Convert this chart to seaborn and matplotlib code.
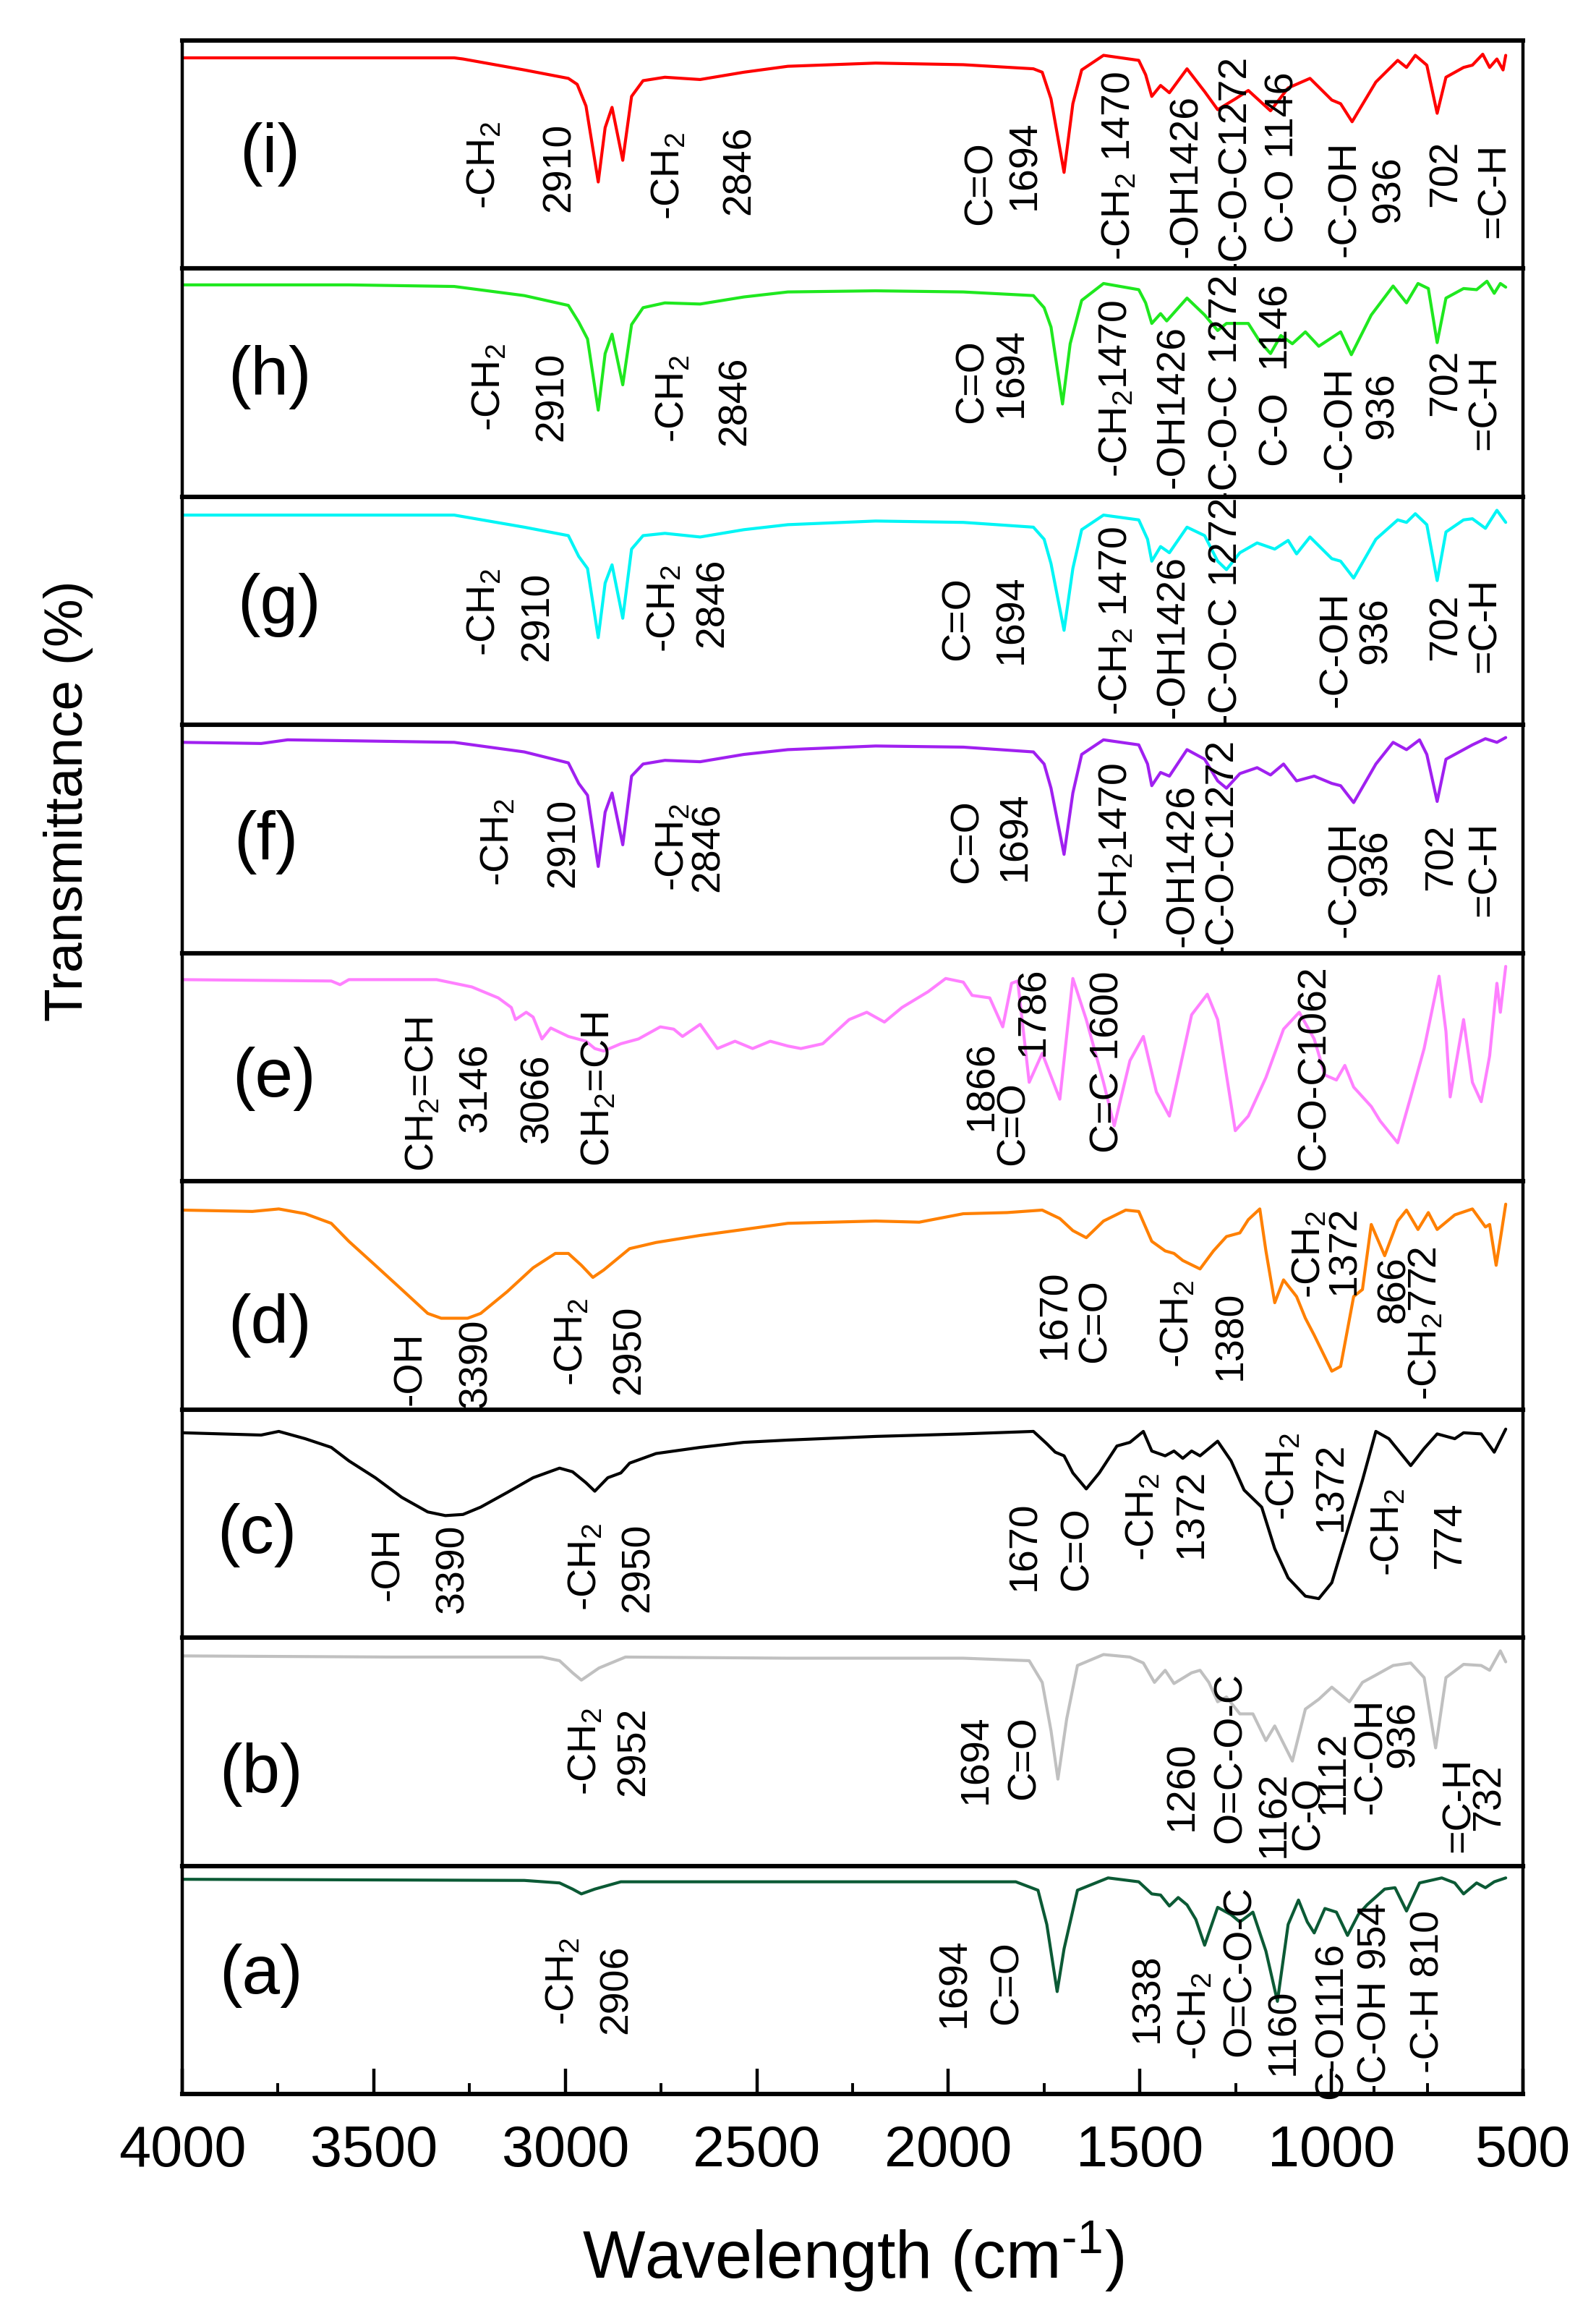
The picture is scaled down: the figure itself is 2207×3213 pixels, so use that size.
import matplotlib
matplotlib.use("Agg")
import numpy as np
import pandas as pd
import seaborn as sns
import matplotlib.pyplot as plt
from matplotlib.ticker import MultipleLocator
from matplotlib import font_manager

# ---------------- data (wavenumber cm-1, transmittance as % of panel height) ----------------
wn_i = [4000, 3290, 3267, 3107, 2992, 2969, 2946, 2914, 2896, 2878, 2850, 2827, 2797, 2740, 2648, 2534, 2419, 2190, 1961, 1778, 1755, 1732, 1698, 1675, 1652, 1595, 1503, 1485, 1469, 1446, 1423, 1377, 1331, 1297, 1251, 1217, 1159, 1113, 1056, 999, 976, 946, 884, 827, 804, 781, 751, 724, 701, 655, 632, 605, 587, 568, 552, 545]
t_i = [92.4, 92.4, 91.9, 87.1, 83.4, 80.8, 71.3, 38.0, 61.8, 70.7, 47.5, 75.5, 82.4, 83.9, 82.9, 86.1, 88.7, 90.1, 89.4, 87.6, 86.1, 74.4, 42.2, 72.3, 87.1, 93.5, 91.3, 85.0, 75.5, 80.3, 77.1, 87.6, 77.6, 69.7, 74.4, 78.1, 69.2, 79.2, 83.4, 73.9, 72.3, 64.4, 81.8, 91.3, 88.2, 93.5, 89.2, 68.1, 83.9, 88.2, 89.2, 94.0, 88.2, 91.9, 87.1, 93.5]

wn_h = [4000, 3565, 3290, 3107, 2992, 2965, 2942, 2914, 2896, 2878, 2850, 2827, 2797, 2740, 2648, 2534, 2419, 2190, 1961, 1778, 1750, 1732, 1702, 1682, 1652, 1595, 1503, 1485, 1469, 1446, 1430, 1377, 1331, 1297, 1274, 1217, 1187, 1159, 1132, 1102, 1068, 1033, 976, 948, 896, 839, 804, 774, 747, 724, 701, 655, 621, 594, 575, 559, 545]
t_h = [92.9, 92.9, 92.2, 88.2, 83.9, 76.6, 69.2, 38.0, 62.8, 71.3, 49.1, 75.5, 82.9, 85.0, 84.5, 87.6, 89.8, 90.3, 89.8, 88.2, 82.9, 74.4, 40.7, 67.1, 86.1, 93.5, 90.8, 85.0, 76.0, 80.3, 77.1, 87.1, 79.7, 72.9, 76.0, 76.0, 68.1, 62.8, 70.7, 67.1, 72.3, 66.0, 72.3, 62.3, 79.7, 92.4, 85.0, 93.5, 91.3, 67.6, 87.1, 91.3, 90.8, 94.5, 89.2, 93.5, 91.9]

wn_g = [4000, 3290, 3107, 2992, 2965, 2942, 2914, 2896, 2878, 2850, 2827, 2797, 2740, 2648, 2534, 2419, 2190, 1961, 1778, 1750, 1732, 1698, 1675, 1652, 1595, 1503, 1480, 1469, 1446, 1423, 1377, 1331, 1297, 1274, 1239, 1194, 1148, 1113, 1091, 1056, 999, 976, 942, 884, 827, 804, 781, 751, 724, 701, 655, 632, 598, 568, 545]
t_g = [92.0, 92.0, 86.7, 83.0, 73.9, 68.6, 38.3, 62.2, 70.2, 46.8, 77.1, 83.0, 84.0, 82.4, 85.6, 87.8, 89.4, 88.8, 86.7, 81.4, 70.7, 41.5, 68.6, 85.6, 92.0, 89.9, 81.4, 71.8, 78.2, 75.5, 86.7, 83.0, 71.8, 68.1, 75.5, 79.8, 77.1, 80.9, 75.0, 82.4, 72.9, 71.8, 64.4, 81.4, 89.9, 88.8, 92.6, 87.8, 63.3, 84.6, 89.9, 90.4, 86.2, 94.1, 88.8]

wn_f = [4000, 3794, 3725, 3290, 3107, 2992, 2965, 2942, 2914, 2896, 2878, 2850, 2827, 2797, 2740, 2648, 2534, 2419, 2190, 1961, 1778, 1750, 1732, 1698, 1675, 1652, 1595, 1503, 1480, 1469, 1446, 1423, 1377, 1331, 1297, 1274, 1239, 1194, 1159, 1125, 1091, 1045, 999, 976, 942, 884, 839, 804, 770, 751, 724, 701, 655, 632, 598, 568, 545]
t_f = [92.4, 91.9, 93.5, 92.4, 88.2, 83.4, 74.4, 69.2, 38.0, 61.8, 70.2, 47.5, 77.6, 82.9, 84.5, 83.9, 87.1, 89.2, 90.8, 90.3, 88.2, 82.9, 72.3, 43.3, 70.2, 87.1, 93.5, 91.3, 82.9, 73.4, 79.2, 77.6, 89.2, 85.0, 75.5, 72.3, 78.7, 81.3, 78.1, 82.9, 75.5, 77.6, 74.4, 73.4, 66.0, 82.9, 92.4, 89.2, 93.5, 87.1, 66.5, 85.0, 89.2, 91.3, 94.0, 92.4, 94.5]

wn_e = [4000, 3611, 3588, 3565, 3336, 3244, 3175, 3141, 3130, 3102, 3084, 3061, 3038, 2992, 2946, 2923, 2900, 2855, 2809, 2752, 2717, 2694, 2648, 2603, 2557, 2511, 2465, 2419, 2385, 2328, 2259, 2213, 2167, 2121, 2053, 2007, 1961, 1938, 1892, 1858, 1835, 1819, 1789, 1755, 1709, 1675, 1640, 1595, 1567, 1526, 1491, 1457, 1423, 1365, 1324, 1297, 1251, 1217, 1171, 1125, 1084, 1045, 1017, 987, 965, 942, 896, 873, 827, 793, 758, 719, 701, 690, 655, 632, 609, 587, 568, 559, 545]
t_e = [88.4, 87.8, 86.2, 88.4, 88.4, 85.2, 80.4, 76.2, 70.9, 74.1, 72.0, 62.4, 67.2, 63.5, 61.4, 58.2, 57.1, 60.3, 62.4, 67.7, 66.7, 63.5, 68.8, 58.2, 61.4, 58.2, 61.4, 59.3, 58.2, 60.3, 70.9, 74.1, 69.8, 76.2, 83.1, 88.9, 87.3, 81.5, 80.4, 67.7, 86.8, 87.8, 43.4, 56.1, 36.0, 88.9, 70.9, 43.4, 24.3, 52.9, 63.5, 39.2, 28.6, 73.0, 82.0, 70.9, 22.2, 28.6, 45.5, 66.7, 74.1, 62.4, 46.6, 44.4, 50.8, 41.3, 32.8, 26.5, 16.9, 37.0, 58.2, 89.9, 65.6, 37.0, 70.9, 43.4, 34.9, 55.0, 86.8, 74.1, 94.2]

wn_d = [4000, 3817, 3748, 3679, 3611, 3565, 3496, 3427, 3359, 3324, 3255, 3221, 3152, 3084, 3026, 2992, 2958, 2928, 2900, 2832, 2763, 2648, 2534, 2419, 2190, 2076, 1961, 1847, 1755, 1709, 1675, 1640, 1595, 1537, 1503, 1469, 1434, 1411, 1388, 1343, 1308, 1274, 1239, 1217, 1187, 1171, 1148, 1125, 1091, 1068, 1045, 999, 976, 942, 919, 896, 861, 827, 804, 774, 747, 724, 678, 632, 598, 587, 570, 559, 545]
t_d = [87.4, 86.8, 87.9, 85.8, 81.6, 73.7, 63.2, 52.6, 42.1, 40.0, 40.0, 42.1, 51.6, 62.1, 68.4, 68.4, 63.2, 57.9, 61.1, 70.5, 73.2, 76.3, 78.9, 81.6, 82.6, 82.1, 85.8, 86.3, 87.4, 83.7, 78.4, 75.3, 82.6, 87.4, 86.8, 73.7, 69.5, 68.4, 65.3, 61.6, 69.5, 75.8, 77.4, 83.2, 87.9, 69.5, 46.8, 56.8, 49.5, 40.0, 32.6, 16.8, 18.9, 49.5, 52.6, 81.1, 67.4, 82.6, 87.4, 78.9, 86.3, 78.9, 85.3, 87.9, 80.0, 81.1, 63.2, 74.7, 90.0]

wn_c = [4000, 3794, 3748, 3679, 3611, 3565, 3496, 3427, 3359, 3313, 3267, 3221, 3152, 3084, 3015, 2981, 2946, 2923, 2889, 2855, 2832, 2763, 2648, 2534, 2419, 2190, 1961, 1778, 1743, 1721, 1698, 1675, 1640, 1606, 1560, 1526, 1491, 1469, 1434, 1411, 1388, 1365, 1343, 1297, 1262, 1228, 1182, 1148, 1113, 1068, 1033, 999, 953, 919, 884, 850, 793, 758, 724, 678, 655, 609, 575, 545]
t_c = [89.8, 88.8, 90.4, 87.2, 83.4, 77.5, 70.1, 61.5, 55.1, 53.5, 54.0, 57.2, 63.6, 70.1, 74.3, 72.7, 67.9, 64.2, 70.1, 72.2, 76.5, 80.7, 83.4, 85.6, 86.6, 88.2, 89.3, 90.4, 85.0, 81.3, 79.7, 72.2, 65.2, 72.2, 84.0, 85.6, 90.4, 81.8, 79.7, 81.8, 78.6, 81.8, 79.7, 86.1, 77.5, 64.7, 57.2, 39.0, 26.2, 18.2, 17.1, 24.1, 49.7, 69.0, 90.4, 87.2, 75.4, 82.9, 89.3, 87.2, 89.8, 89.3, 81.3, 91.4]

wn_b = [4000, 3450, 3061, 3015, 2981, 2958, 2912, 2843, 2419, 1961, 1789, 1755, 1732, 1714, 1691, 1663, 1595, 1526, 1491, 1462, 1434, 1411, 1365, 1343, 1320, 1297, 1274, 1239, 1205, 1171, 1148, 1102, 1068, 1033, 999, 953, 919, 884, 839, 793, 758, 728, 701, 655, 609, 587, 559, 545]
t_b = [92.0, 91.5, 91.5, 89.9, 84.6, 81.4, 86.7, 91.5, 91.0, 91.0, 89.9, 80.4, 59.2, 38.0, 64.5, 87.8, 92.6, 91.5, 88.9, 80.4, 85.7, 79.9, 84.6, 85.7, 80.4, 71.9, 74.0, 66.6, 66.6, 54.9, 61.3, 45.9, 68.7, 73.0, 78.3, 71.9, 80.4, 83.6, 87.8, 88.9, 82.5, 51.7, 82.5, 88.3, 87.8, 85.7, 94.2, 89.4]

wn_a = [4000, 3107, 3015, 2981, 2958, 2923, 2855, 2419, 1824, 1766, 1743, 1716, 1698, 1663, 1583, 1503, 1469, 1446, 1423, 1400, 1377, 1354, 1331, 1297, 1262, 1239, 1205, 1171, 1141, 1113, 1086, 1063, 1045, 1017, 987, 958, 930, 907, 861, 834, 804, 770, 712, 678, 655, 621, 598, 575, 545]
t_a = [94.1, 93.6, 92.5, 89.8, 87.7, 89.8, 93.0, 93.0, 93.0, 89.3, 74.3, 44.9, 63.6, 89.3, 94.7, 93.0, 87.7, 87.2, 82.4, 86.1, 82.9, 76.5, 65.2, 81.8, 78.6, 75.4, 79.7, 62.6, 40.6, 74.3, 85.0, 75.4, 70.6, 81.3, 79.7, 69.5, 78.6, 82.9, 89.8, 90.4, 80.2, 92.5, 94.7, 92.5, 87.7, 92.5, 90.4, 93.0, 94.7]

panel_names = ["(i)", "(h)", "(g)", "(f)", "(e)", "(d)", "(c)", "(b)", "(a)"]
panel_colors = ["#ff0000", "#1fe81f", "#00f5f5", "#a020f0", "#ff80ff", "#ff8000", "#000000", "#c0c0c0", "#0b5a35"]

ann_i = [("-CH$_2$", 3210, 45.4), ("2910", 3015, 44.4), ("-CH$_2$", 2729, 40.7), ("2846", 2545, 43.3),
         ("C=O", 1915, 37.5), ("1694", 1801, 45.4), ("-CH$_2$ 1470", 1553, 44.9), ("-OH1426", 1377, 40.7),
         ("-C-O-C1272", 1251, 45.9), ("C-O 1146", 1125, 48.6), ("-C-OH", 965, 30.6), ("936", 850, 34.8),
         ("702", 701, 41.7), ("=C-H", 575, 34.3)]
ann_h = [("-CH$_2$", 3198, 48.0), ("2910", 3033, 43.8), ("-CH$_2$", 2717, 42.8), ("2846", 2557, 42.2),
         ("C=O", 1938, 50.7), ("1694", 1835, 54.4), ("-CH$_2$1470", 1560, 47.5), ("-OH1426", 1411, 39.6),
         ("-C-O-C 1272", 1274, 47.0), ("C-O  1146", 1141, 53.3), ("-C-OH", 976, 31.7), ("936", 866, 40.1),
         ("702", 701, 50.0), ("=C-H", 598, 41.2)]
ann_g = [("-CH$_2$", 3210, 49.5), ("2910", 3072, 47.6), ("-CH$_2$", 2740, 51.1), ("2846", 2614, 53.5),
         ("C=O", 1973, 46.8), ("1694", 1835, 46.3), ("-CH$_2$ 1470", 1560, 45.7), ("-OH1426", 1411, 38.8),
         ("-C-O-C 1272", 1274, 49.5), ("-C-OH", 987, 33.0), ("936", 884, 41.5), ("702", 701, 43.1),
         ("=C-H", 598, 43.6)]
ann_f = [("-CH$_2$", 3175, 48.6), ("2910", 3004, 48.3), ("-CH$_2$", 2717, 46.2), ("2846", 2626, 46.5),
         ("C=O", 1950, 49.1), ("1694", 1824, 51.2), ("-CH$_2$1470", 1560, 44.4), ("-OH1426", 1388, 38.5),
         ("-C-O-C1272", 1285, 46.1), ("-C-OH", 965, 32.2), ("936", 884, 39.6), ("702", 712, 42.2),
         ("=C-H", 598, 37.0)]
ann_e = [("CH$_2$=CH", 3370, 38.1), ("3146", 3233, 41.3), ("3066", 3072, 36.5), ("CH$_2$=CH", 2912, 40.2),
         ("1866", 1912, 41.8), ("C=O", 1830, 25.4), ("1786", 1778, 74.6), ("C=C 1600", 1583, 52.4),
         ("C-O-C1062", 1045, 49.7)]
ann_d = [("-OH", 3404, 17.9), ("3390", 3233, 20.5), ("-CH$_2$", 2981, 29.5), ("2950", 2832, 26.1),
         ("1670", 1721, 41.6), ("C=O", 1617, 38.7), ("-CH$_2$", 1400, 37.4), ("1380", 1262, 32.6),
         ("-CH$_2$", 1056, 67.9), ("1372", 965, 70.0), ("866", 835, 52.5), ("-CH$_2$772", 752, 37.9)]
ann_c = [("-OH", 3462, 32.3), ("3390", 3294, 30.5), ("-CH$_2$", 2946, 31.0), ("2950", 2809, 30.8),
         ("1670", 1801, 40.1), ("C=O", 1663, 39.0), ("-CH$_2$", 1491, 52.9), ("1372", 1365, 54.5),
         ("-CH$_2$", 1125, 70.6), ("1372", 999, 66.3), ("-CH$_2$", 850, 46.0), ("774", 690, 44.9)]
ann_b = [("-CH$_2$", 2946, 50.2), ("2952", 2820, 50.2), ("1694", 1927, 46.7), ("C=O", 1801, 47.5),
         ("1260", 1388, 34.8), ("O=C-O-C", 1262, 47.5), ("1162", 1148, 22.6), ("C-O", 1060, 23.0),
         ("1112", 995, 41.0), ("-C-OH", 896, 48.0), ("936", 812, 57.6), ("=C-H", 667, 26.8), ("732", 587, 30.0)]
ann_a = [("-CH$_2$", 3004, 49.2), ("2906", 2866, 46.0), ("1694", 1984, 48.7), ("C=O", 1847, 48.9),
         ("1338", 1480, 42.2), ("-CH$_2$", 1354, 34.2), ("O=C-O-C", 1239, 54.0), ("1160", 1125, 27.3),
         ("C-O1116", 999, 32.1), ("-C-OH 954", 884, 41.2), ("-C-H 810", 747, 44.9)]
label_pos = [(3771, 50.2), (3771, 52.3), (3748, 52.7), (3782, 48.6), (3760, 45.0),
             (3771, 36.8), (3805, 44.9), (3794, 40.1), (3794, 51.9)]

x_ticks = [4000, 3500, 3000, 2500, 2000, 1500, 1000, 500]

series = [(wn_i, t_i, ann_i), (wn_h, t_h, ann_h), (wn_g, t_g, ann_g), (wn_f, t_f, ann_f),
          (wn_e, t_e, ann_e), (wn_d, t_d, ann_d), (wn_c, t_c, ann_c), (wn_b, t_b, ann_b),
          (wn_a, t_a, ann_a)]

# ---------------- style ----------------
sns.set_style("ticks")
names = {f.name for f in font_manager.fontManager.ttflist}
HAS_NARROW = "Liberation Sans Narrow" in names
BASE = ["Liberation Sans", "DejaVu Sans"]
NARROW = ["Liberation Sans Narrow"] + BASE if HAS_NARROW else BASE
plt.rcParams["font.family"] = BASE
plt.rcParams["text.color"] = "black"
plt.rcParams["axes.labelcolor"] = "black"
plt.rcParams["xtick.color"] = "black"
plt.rcParams["ytick.color"] = "black"
plt.rcParams["mathtext.fontset"] = "custom"
plt.rcParams["mathtext.rm"] = NARROW[0]
plt.rcParams["mathtext.it"] = NARROW[0] + ":italic"
plt.rcParams["mathtext.bf"] = NARROW[0] + ":bold"

ann_size = 24 if HAS_NARROW else 20
ylab_size = 32 if HAS_NARROW else 27
xlab_size = 37 if HAS_NARROW else 33

W, H = 2207, 3213
fig, axes = plt.subplots(9, 1, figsize=(W / 200, H / 200), dpi=200, sharex=True)
fig.subplots_adjust(left=252 / W, right=2106 / W, top=1 - 56 / H, bottom=1 - 2895 / H, hspace=0)

for k, (ax, (wn, tt, ann)) in enumerate(zip(axes, series)):
    df = pd.DataFrame({"wn": wn, "T": tt})
    sns.lineplot(data=df, x="wn", y="T", ax=ax, color=panel_colors[k], lw=1.5,
                 sort=False, estimator=None)
    ax.set_xlim(4000, 500)
    ax.set_ylim(0, 100)
    ax.set_xlabel("")
    ax.set_ylabel("")
    ax.set_yticks([])
    for side in ["top", "bottom"]:
        ax.spines[side].set_linewidth(2.2)
    for side in ["left", "right"]:
        ax.spines[side].set_linewidth(1.6)
    for sp in ax.spines.values():
        sp.set_color("black")
        sp.set_visible(True)
    ax.tick_params(axis="y", left=False, right=False, labelleft=False)
    if k < 8:
        ax.tick_params(axis="x", which="both", length=0, labelbottom=False)
    lx, ly = label_pos[k]
    ax.text(lx, ly, panel_names[k], fontsize=34, ha="center", va="center",
            family=BASE, color="black")
    for txt, x, y in ann:
        ax.text(x, y, txt, rotation=90, fontsize=ann_size, ha="center", va="center",
                family=NARROW, color="black")

axb = axes[-1]
axb.xaxis.set_major_locator(MultipleLocator(500))
axb.xaxis.set_minor_locator(MultipleLocator(250))
axb.set_xticks(x_ticks)
axb.set_xticklabels([str(v) for v in x_ticks])
axb.tick_params(axis="x", which="major", direction="in", bottom=True, top=False,
                length=12.6, width=1.6, labelsize=28.5, pad=15, labelbottom=True,
                colors="black")
axb.tick_params(axis="x", which="minor", direction="in", bottom=True, top=False,
                length=5.4, width=1.4, colors="black")

fig.text(0.0430, 0.6555, "Transmittance (%)", rotation=90, ha="center", va="center",
         fontsize=ylab_size, family=NARROW, color="black")
fig.text(0.5347, 0.0289, r"Wavelength (cm$^{\text{-}1}$)", ha="center", va="center",
         fontsize=xlab_size, family=NARROW, color="black")

fig.savefig("out.png", dpi=200)
